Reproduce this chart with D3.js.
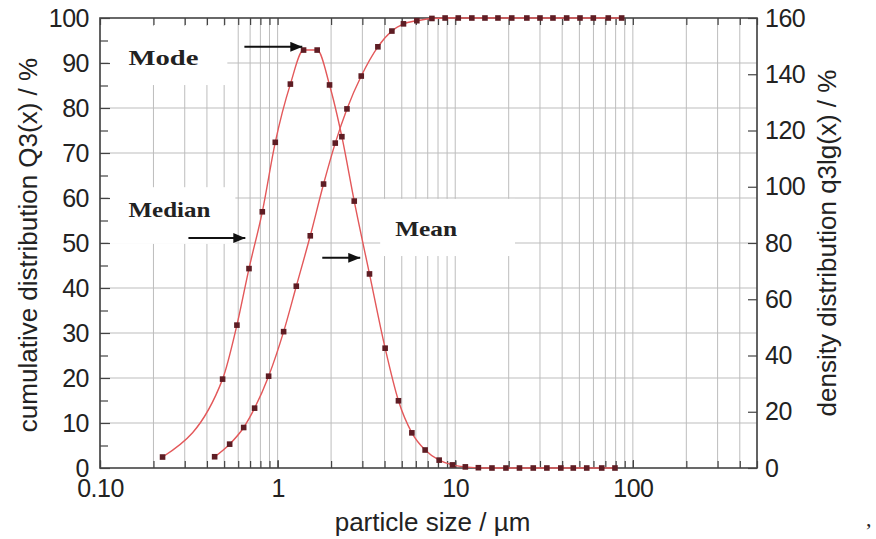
<!DOCTYPE html>
<html>
<head>
<meta charset="utf-8">
<script src="https://cdn.jsdelivr.net/npm/d3@7"></script>
<style>
  body { margin: 0; background: #fff; }
  svg { display: block; }
</style>
</head>
<body>
<svg class="chart"></svg>
<script>
// density distribution q3lg(x), right axis (%)
var densSize  = [0.225, 0.49, 0.59, 0.69, 0.82, 0.97, 1.18, 1.40, 1.67, 1.96,
                 2.30, 2.70, 3.29, 4.03, 4.79, 5.70, 6.77, 8.12, 9.64, 11.4,
                 13.5, 16.1, 19.3, 23.0, 27.5, 32.8, 39.3, 46.2, 55.0, 66.8, 79.3];
var densValue = [3.9, 31.6, 50.8, 70.9, 91.1, 115.8, 136.5, 148.6, 148.6, 136.2,
                 117.8, 94.9, 69.0, 42.6, 23.9, 12.5, 6.4, 2.8, 1.1, 0.4,
                 0.1, 0, 0, 0, 0, 0, 0, 0, 0, 0, 0];

// cumulative distribution Q3(x), left axis (%)
var cumSize  = [0.442, 0.537, 0.644, 0.742, 0.890, 1.081, 1.274, 1.527, 1.814, 2.111,
                2.457, 2.957, 3.669, 4.399, 5.112, 6.08, 7.39, 8.77, 10.4, 12.4,
                14.7, 17.4, 20.8, 25.3, 30.0, 35.5, 42.4, 50.4, 59.9, 72.7, 86.5];
var cumValue = [2.5, 5.3, 9.0, 13.3, 20.4, 30.3, 40.4, 51.6, 63.1, 72.2,
                79.8, 87.1, 93.6, 97.1, 98.7, 99.4, 99.9, 100, 100, 100,
                100, 100, 100, 100, 100, 100, 100, 100, 100, 100, 100];

var xTicks = [0.1, 1, 10, 100];
var xTickLabels = ["0.10", "1", "10", "100"];
var leftTicks = [0, 10, 20, 30, 40, 50, 60, 70, 80, 90, 100];
var leftMinor = [5, 15, 25, 35, 45, 55, 65, 75, 85, 95];
var rightTicks = [0, 20, 40, 60, 80, 100, 120, 140, 160];

// labels (x in µm, y in left axis units)
var notes = [
  { text: "Mode",   x: 0.1446, y: 89.6, len: 70, box: [0.1116, 0.521, 98.2, 85.1], arrow: [0.650, 1.377, 93.6] },
  { text: "Median", x: 0.1446, y: 55.8, len: 82, box: [0.1116, 0.578, 62.4, 49.8], arrow: [0.3147, 0.658, 51.1] },
  { text: "Mean",   x: 4.59,   y: 51.6, len: 62, box: [3.78, 21.7, 59.8, 47.1],     arrow: [1.784, 2.918, 46.7] }
];

var svgWidth = 876, svgHeight = 539;
var plotLeft = 100, plotRight = 757, plotTop = 18, plotBottom = 468;

var svg = d3.select(".chart")
  .attr("width", svgWidth)
  .attr("height", svgHeight);

var x = d3.scaleLog().domain([0.1, 500]).range([plotLeft, plotRight]);
var yL = d3.scaleLinear().domain([0, 100]).range([plotBottom, plotTop]);
var yR = d3.scaleLinear().domain([0, 160]).range([plotBottom, plotTop]);

svg.append("defs").append("marker")
  .attr("id", "head")
  .attr("markerUnits", "userSpaceOnUse")
  .attr("markerWidth", 12).attr("markerHeight", 10)
  .attr("refX", 12).attr("refY", 5)
  .attr("orient", "auto")
  .append("path")
  .attr("d", "M0,0 L12,5 L0,10 Z")
  .attr("fill", "#111");

// grid
var grid = svg.append("g").attr("stroke", "#bdbdbd").attr("stroke-width", 1);
grid.selectAll(".vg")
  .data(x.ticks())
  .enter().append("line")
  .attr("x1", function(d) { return x(d) }).attr("x2", function(d) { return x(d) })
  .attr("y1", plotTop).attr("y2", plotBottom);
grid.selectAll(".hg")
  .data(leftTicks.slice(1, -1))
  .enter().append("line")
  .attr("x1", plotLeft).attr("x2", plotRight)
  .attr("y1", function(d) { return yL(d) }).attr("y2", function(d) { return yL(d) });

// white label boxes over the grid
svg.selectAll(".box")
  .data(notes)
  .enter().append("rect")
  .attr("fill", "#fff")
  .attr("x", function(d) { return x(d.box[0]) })
  .attr("width", function(d) { return x(d.box[1]) - x(d.box[0]) })
  .attr("y", function(d) { return yL(d.box[2]) })
  .attr("height", function(d) { return yL(d.box[3]) - yL(d.box[2]) });

// axes
function styleAxis(g) {
  g.selectAll(".domain").remove();
  g.selectAll("line").attr("stroke", "#444").attr("stroke-width", 1.2);
  g.selectAll("text").attr("font-family", "Liberation Sans, Arial, sans-serif")
    .attr("font-size", 25).attr("fill", "#222").attr("letter-spacing", "-0.5");
}

svg.append("g")
  .attr("transform", "translate(" + plotLeft + ",0)")
  .call(d3.axisLeft(yL).tickValues(leftTicks).tickSize(-10).tickPadding(11))
  .call(styleAxis);
svg.append("g")
  .attr("transform", "translate(" + plotLeft + ",0)")
  .call(d3.axisLeft(yL).tickValues(leftMinor).tickSize(-8).tickFormat(""))
  .call(styleAxis);
svg.append("g")
  .attr("transform", "translate(" + plotRight + ",0)")
  .call(d3.axisRight(yR).tickValues(rightTicks).tickSize(-9).tickPadding(8))
  .call(styleAxis);
svg.append("g")
  .attr("transform", "translate(0," + plotBottom + ")")
  .call(d3.axisBottom(x).tickValues(xTicks).tickSize(-8).tickPadding(11)
    .tickFormat(function(d, i) { return xTickLabels[i] }))
  .call(styleAxis);
svg.append("g")
  .attr("transform", "translate(0," + plotBottom + ")")
  .call(d3.axisBottom(x).ticks().tickSize(-7).tickFormat(""))
  .call(styleAxis);
svg.append("g")
  .attr("transform", "translate(0," + plotTop + ")")
  .call(d3.axisTop(x).ticks().tickSize(-7).tickFormat(""))
  .call(styleAxis);

svg.append("rect")
  .attr("x", plotLeft).attr("y", plotTop)
  .attr("width", plotRight - plotLeft).attr("height", plotBottom - plotTop)
  .attr("fill", "none").attr("stroke", "#444").attr("stroke-width", 1.6);

// curves
var dens = densSize.map(function(d, i) { return { s: d, v: densValue[i] } });
var cum = cumSize.map(function(d, i) { return { s: d, v: cumValue[i] } });

var densLine = d3.line()
  .x(function(d) { return x(d.s) })
  .y(function(d) { return yR(d.v) })
  .curve(d3.curveMonotoneX);
var cumLine = d3.line()
  .x(function(d) { return x(d.s) })
  .y(function(d) { return yL(d.v) })
  .curve(d3.curveMonotoneX);

svg.append("path").datum(dens)
  .attr("fill", "none").attr("stroke", "#e3585a").attr("stroke-width", 1.4)
  .attr("d", densLine);
svg.append("path").datum(cum)
  .attr("fill", "none").attr("stroke", "#e3585a").attr("stroke-width", 1.4)
  .attr("d", cumLine);

svg.selectAll(".dp").data(dens).enter().append("rect")
  .attr("x", function(d) { return x(d.s) - 2.8 })
  .attr("y", function(d) { return yR(d.v) - 2.8 })
  .attr("width", 5.6).attr("height", 5.6)
  .attr("fill", "#5e1d24");
svg.selectAll(".cp").data(cum).enter().append("rect")
  .attr("x", function(d) { return x(d.s) - 2.8 })
  .attr("y", function(d) { return yL(d.v) - 2.8 })
  .attr("width", 5.6).attr("height", 5.6)
  .attr("fill", "#5e1d24");

// annotations
svg.selectAll(".note").data(notes).enter().append("text")
  .attr("x", function(d) { return x(d.x) })
  .attr("y", function(d) { return yL(d.y) })
  .attr("textLength", function(d) { return d.len })
  .attr("lengthAdjust", "spacingAndGlyphs")
  .attr("font-family", "Liberation Serif, Times New Roman, serif")
  .attr("font-weight", "bold")
  .attr("font-size", 22)
  .attr("fill", "#222")
  .text(function(d) { return d.text });

svg.selectAll(".arrow").data(notes).enter().append("line")
  .attr("x1", function(d) { return x(d.arrow[0]) })
  .attr("x2", function(d) { return x(d.arrow[1]) })
  .attr("y1", function(d) { return yL(d.arrow[2]) })
  .attr("y2", function(d) { return yL(d.arrow[2]) })
  .attr("stroke", "#111").attr("stroke-width", 2)
  .attr("marker-end", "url(#head)");

// axis titles
var titleFont = "Liberation Sans, Arial, sans-serif";
svg.append("text")
  .attr("x", (plotLeft + plotRight) / 2 + 4).attr("y", 531)
  .attr("text-anchor", "middle")
  .attr("font-family", titleFont).attr("font-size", 26).attr("fill", "#222")
  .text("particle size / µm");
svg.append("text")
  .attr("transform", "translate(37," + ((plotTop + plotBottom) / 2 + 2) + ") rotate(-90)")
  .attr("text-anchor", "middle")
  .attr("font-family", titleFont).attr("font-size", 26).attr("fill", "#222")
  .text("cumulative distribution Q3(x) / %");
svg.append("text")
  .attr("transform", "translate(836," + ((plotTop + plotBottom) / 2) + ") rotate(-90)")
  .attr("text-anchor", "middle")
  .attr("font-family", titleFont).attr("font-size", 26).attr("fill", "#222")
  .text("density distribution q3lg(x) / %");

svg.append("text")
  .attr("x", 866).attr("y", 526)
  .attr("font-family", "Liberation Serif, serif").attr("font-size", 22).attr("fill", "#222")
  .text(",");
</script>
</body>
</html>
